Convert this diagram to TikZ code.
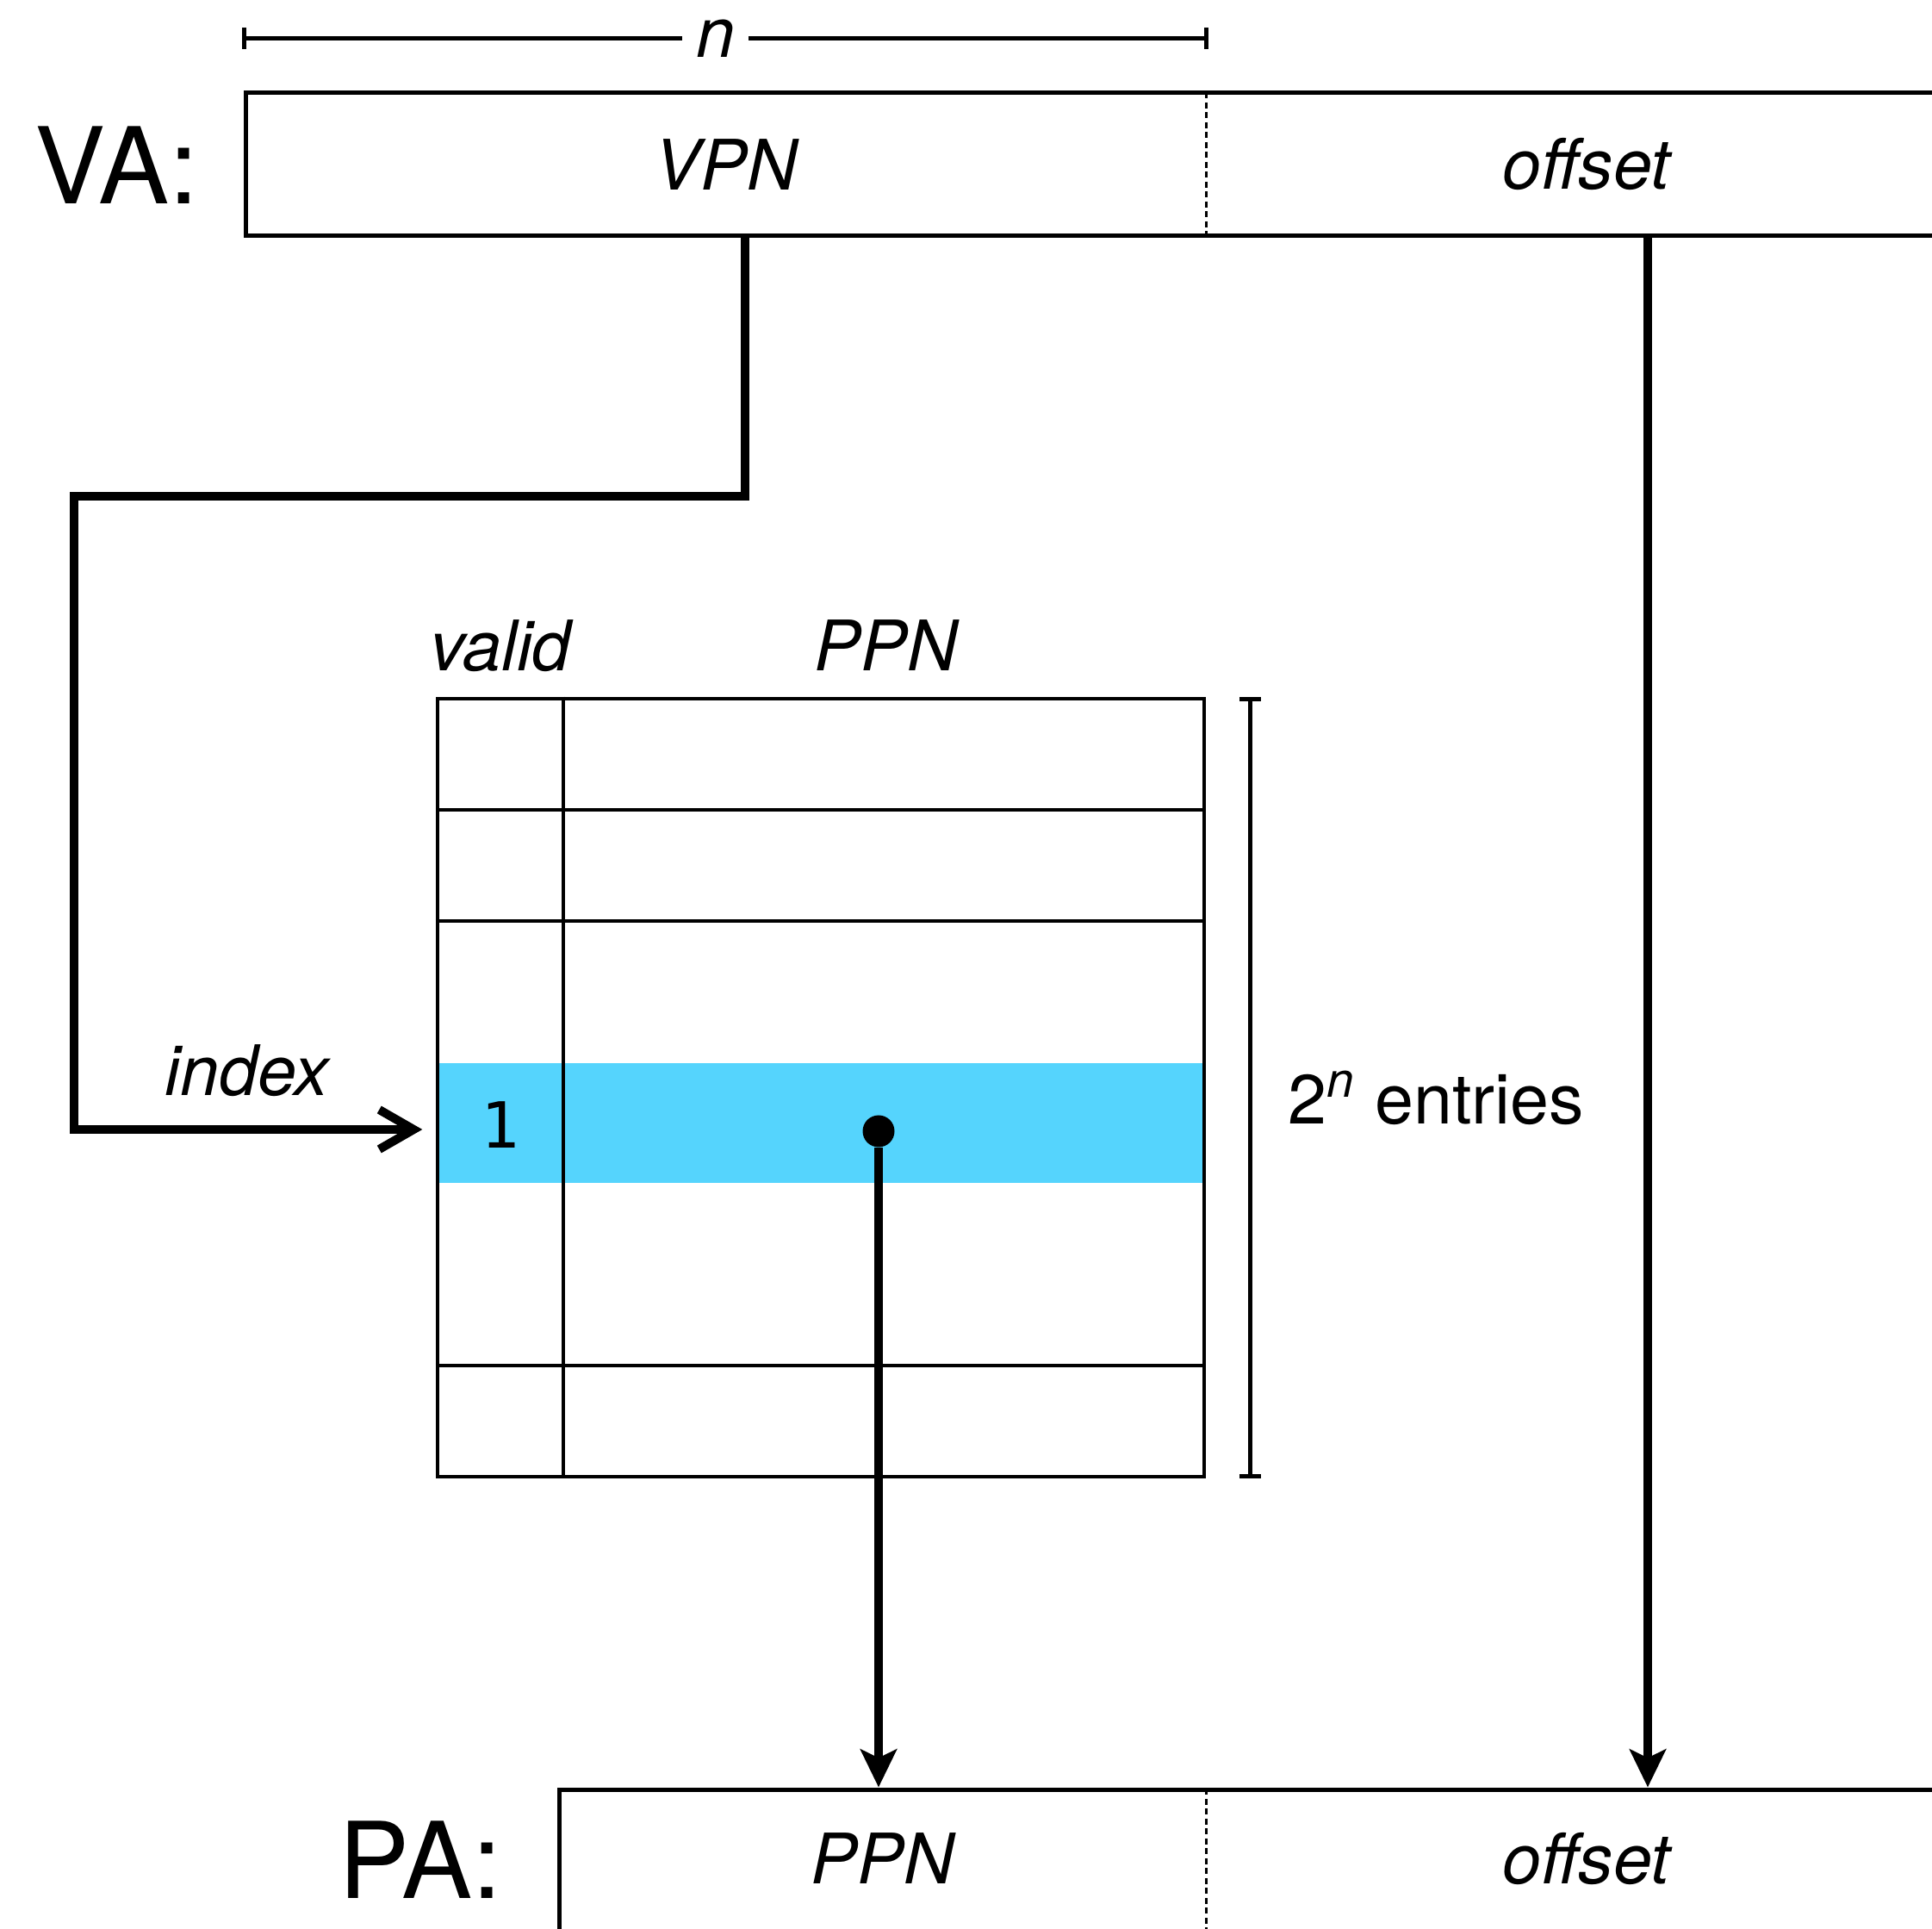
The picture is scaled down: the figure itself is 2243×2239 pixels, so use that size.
\documentclass[tikz,border=0pt]{standalone}
\usepackage{fontspec}
\setmainfont{TeX Gyre Heros}
\newfontfamily\bitfont{DejaVu Sans Mono}
\usetikzlibrary{arrows.meta}
\definecolor{rowblue}{HTML}{55D4FD}

\begin{document}
\begin{tikzpicture}[
    x=0.1mm, y=-0.1mm,
    regbox/.style={draw, line width=0.5mm, inner sep=0pt},
    field/.style={inner sep=0pt, font=\fontsize{23}{27}\selectfont\itshape},
    head/.style={inner sep=0pt, anchor=base, font=\fontsize{23}{27}\selectfont\itshape},
    reglabel/.style={inner sep=0pt, anchor=base west, font=\fontsize{35}{42}\selectfont},
    grid/.style={line width=0.45mm},
    divider/.style={line width=0.3mm, dash pattern=on 0.7mm off 0.45mm},
    dimline/.style={line width=0.5mm, {Bar[width=2.5mm]}-{Bar[width=2.5mm]}},
    wire/.style={line width=1mm},
    arrow/.style={wire, -{Stealth[length=4.4mm, width=4.2mm, inset=1mm]}},
    dot/.style={circle, fill=black, inner sep=0pt, minimum size=3.7mm}
]
\useasboundingbox (0,0) rectangle (2243,2239);
\clip (0,0) rectangle (2243,2239);

% virtual address
\node[regbox, minimum width=211.5mm, minimum height=16.6mm] (va) at (1342.5,191) {};
\node[field, minimum width=111.5mm, minimum height=16.6mm] (vpn) at (842.5,191) {VPN};
\node[field, minimum width=88.4mm, minimum height=16.6mm] (voff) at (1842,191) {offset};
\draw[divider] (vpn.north east) -- (vpn.south east);
\node[reglabel] (valbl) at (40,237) {VA:};

\draw[dimline] ([yshift=6.3mm,xshift=-0.3mm]vpn.north west) -- node[pos=0.49, field, fill=white, inner xsep=1.6mm] (nlab) {n} ([yshift=6.3mm,xshift=0.2mm]vpn.north east);

% page table
\node[fill=rowblue, inner sep=0pt, minimum width=89mm, minimum height=13.9mm] (hit) at (953,1303.5) {};
\node[draw, grid, inner sep=0pt, minimum width=89mm, minimum height=90.3mm] (pt) at (953,1262.5) {};
\draw[grid] (pt.north -| 654,0) -- (pt.south -| 654,0);
\foreach \yy in {940,1069,1585}
    \draw[grid] (pt.west |- 0,\yy) -- (pt.east |- 0,\yy);
\node[head] (vhead) at (581,779) {valid};
\node[head] (phead) at (1029,779) {PPN};
\node[inner sep=0pt, font=\fontsize{21}{24}\selectfont\bitfont] (vbit) at (581,1306) {1};
\node[dot] (ptr) at (1020,1313) {};

\draw[dimline] ([xshift=5.1mm]pt.north east) -- ([xshift=5.1mm]pt.south east);
\node[inner sep=0pt, anchor=base west, font=\fontsize{23}{27}\selectfont] (entries) at (1495,1305) {2\textsuperscript{\itshape n} entries};

% physical address
\node[regbox, minimum width=175.1mm, minimum height=32.3mm] (pa) at (1524.5,2238.5) {};
\node[field, minimum width=75.1mm, minimum height=16.1mm] (ppn) at (1024.5,2157.5) {PPN};
\node[field, minimum width=88.4mm, minimum height=16.1mm] (poff) at (1842,2157.5) {offset};
\draw[divider] (ppn.north east) -- ++(0,200);
\node[reglabel] (palbl) at (393,2203) {PA:};

% connections
\draw[wire, -{Straight Barb[length=4mm, width=4.6mm]}] ([xshift=2.25mm]vpn.south) |- ++(-779,301) |- ([xshift=-1.7mm,yshift=-0.75mm]hit.west);
\node[head] (idx) at (287,1272) {index};

\coordinate (offtop) at ([xshift=7.1mm]voff.south);
\draw[arrow] (offtop) -- (offtop |- pa.north);
\draw[arrow] (ptr) -- (ptr |- pa.north);

\end{tikzpicture}
\end{document}
